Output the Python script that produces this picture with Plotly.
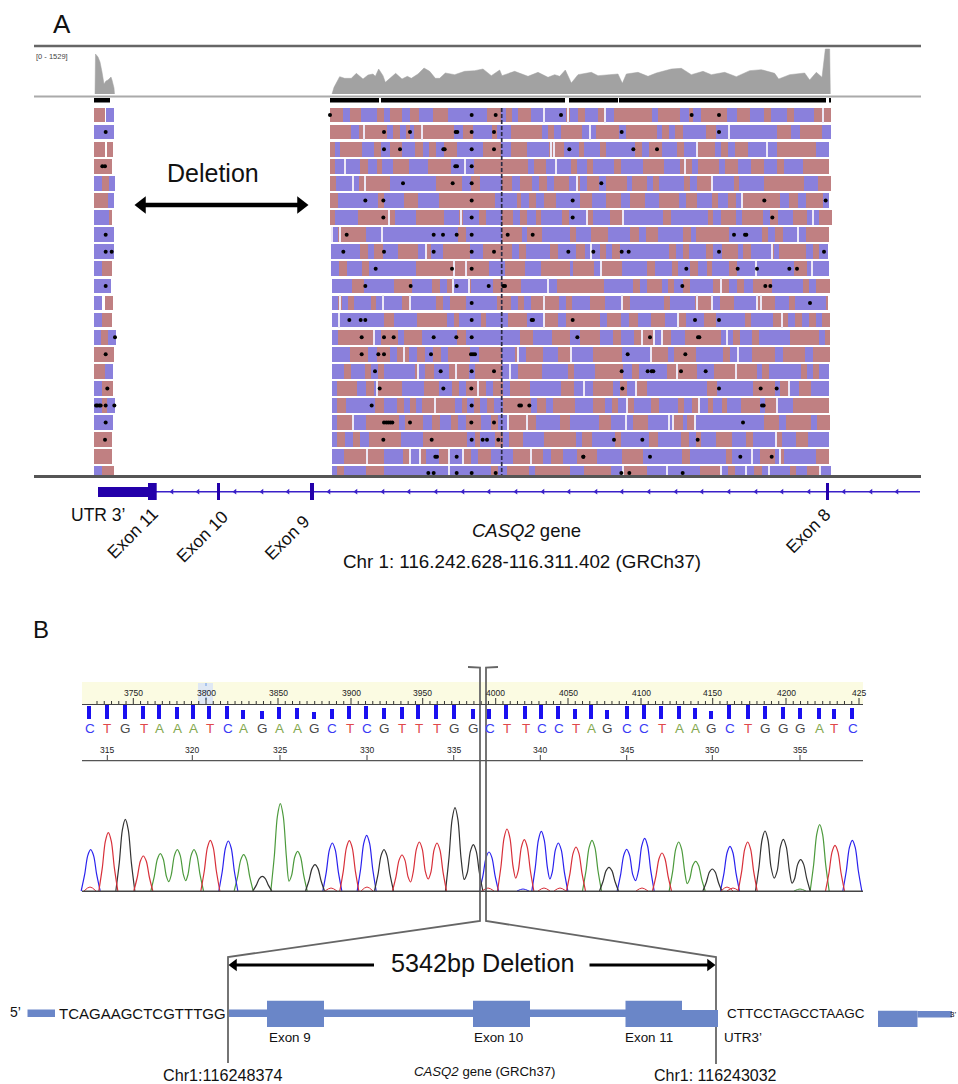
import plotly.graph_objects as go

# ---------- Panel A: coverage ----------
coverage_left_x = [95, 95.5, 98, 100, 102, 104, 106, 108, 110, 111, 112, 114, 114.5]
coverage_left_y = [94, 54, 57, 62, 72, 84, 81, 80, 78, 77, 80, 88, 94]
coverage_crop_x = [12,18,35,50,70,85,105,120,135,142,152,165,172,190,203,222,238,250,270,288,305,322,335,352,380,410,440,465,
                   490,515,522,560,600,630,660,680,695,712,730,750,790,810,840,870,883,895,930,960,985,1030,1060,1090,1125,
                   1150,1190,1225,1265,1300,1340,1352,1385,1430,1445,1465,1482,1492,1505,1507]
coverage_crop_y = [150,130,98,103,103,88,105,93,90,97,75,95,115,100,88,105,97,103,90,72,82,103,103,87,92,82,80,75,
                   95,78,95,82,97,85,100,92,97,78,117,92,85,95,92,90,118,90,85,97,87,75,73,92,82,
                   92,85,98,80,77,88,105,92,87,108,85,100,15,15,150]
depth_bar_starts = [94, 330, 381, 569, 619, 829]
depth_bar_ends = [110, 379, 565, 618, 826, 831]

# ---------- Panel A: reads (crop units, 3x) ----------
stub_first = ["R","B","R","R","B","R","B","B","B","B","B","B","B","B","R","R","B","B","B","R","R","B"]
stub_segments = [
    [28,60,64,88],[28,88],[28,60,65,84],[28,80],[28,52,72,90],[28,70,86],[28,73,82],[28,87],[28,88],[28,50,82],[28,78],
    [28,52,60,85],[28,50,82],[28,48,68,92],[28,87],[28,60,85],[28,50,85],[28,50,65,90],[28,85],[28,82],[28,82],[28,50,87],
]
stub_dots = [[],[62],[],[52,60],[],[],[],[62],[62,80],[],[62],[],[],[90],[62],[],[67],[33,37,43,47,62,88],[62],[60],[],[]]
row_first = ["R","R","R","R","R","R","R","B","B","B","B","B","B","B","B","B","B","B","B","B","B","B"]
row_left = [
    [15,53,75,107,155,176,195,232,256,282,325,370,485,528,543,562,578,617,723,735,758],
    [15,77,102,186,205,224,243,256,266,387,415,445,500,515,558,652,670,688,707],
    [15,30,46,110,147,168,195,230,270,293,312,333,358,396,474,528,558,607,672,718,762],
    [15,30,105,130,155,170,205,253,308,378,447,610,628,662,737,755],
    [15,33,102,195,332,410,438,465,530,562,586,622,642,665,687,733,755],
    [15,40,158,178,237,280,343,510,575,587,612,633,658,692],
    [15,30,98,210,274,358,403,413,462,482,530,565,585,607,632,648,711,732],
    [20,40,123,400,423,530,591,607,652,735,753],
    [18,104,128,147,173,218,280,303,319,354,436,473,562,581,604,676,700,752],
    [18,43,65,110,131,274,492,540,600,647,735,745],
    [20,80,117,208,262,320,344,365,385,428,438,503,587,695],
    [20,40,50,70,87,138,152,230,256,333,354,376,423,515,558,578,598,617,702,722,740],
    [20,177,208,277,367,387,401,468,484,548,606,658,700,722],
    [20,40,149,168,218,237,290,397,423,585,625,681,735],
    [20,75,128,155,195,216,253,276,300,323,348,370,434,462,530,570,579,604,653,700,739],
    [20,58,77,120,138,160,176,270,278,300,328,372,432,450,532,578,652,729,747],
    [20,37,96,123,147,156,232,298,342,381,401,423,484,503,533,556,614,708,748],
    [20,37,62,151,176,216,237,255,273,290,389,411,425,448,465,485,508,533,617,637,662,684,750],
    [20,37,83,123,222,240,295,322,344,378,400,422,468,497,518,550,633,705,735],
    [20,37,60,85,104,131,228,295,427,450,466,510,533,552,593,657,753],
    [20,58,176,235,252,285,303,342,372,415,438,460,499,563,654,677,715,755],
    [20,37,58,123,176,497,518,545,612,630,735],
]
row_right = [
    [15,55,75,102,217,233,300,327,340,363,440,470,510,552,573,622,642,702],
    [5,48,118,137,230,246,267,284,310,377,408,592,632,660,725],
    [12,60,78,165,185,207,245,292,312,348,405,422,443,465,503,590,709],
    [20,38,103,124,190,251,300,335,353,417,435,475,513,552,592,611,669],
    [0,22,58,78,140,155,202,220,238,312,330,352,393,462,478,552,672,715],
    [0,36,78,124,150,195,238,297,317,352,395,415,443,467,487,600,627,655,677,730],
    [22,40,90,128,248,273,383,400,422,467,485,548,570,595,640,680,717],
    [33,84,150,177,197,235,310,333,348,447,547,563,584,608,677],
    [15,60,78,97,120,268,288,308,326,378,398,425,475,490,513,572,583,597,677,700,717],
    [42,65,127,200,225,275,293,330,353,380,397,448,471,642,682],
    [72,160,180,202,246,265,283,310,330,398,448,472,492,518,575,670,688,707],
    [30,75,128,150,252,270,345,396,420,462,530,585,627,645,737],
    [60,82,122,148,174,214,254,295,318,373,407,495,512,580,623,645,665,687,707,727],
    [0,60,100,123,163,220,247,272,315,423,458,480,515,538,630,717,735],
    [40,125,215,265,283,347,430,450,517,585,608,675,698],
    [45,130,155,178,262,352,403,531,547,567,662,680,698,717],
    [38,100,120,140,168,200,382,412,520,585,600,628,658,693],
    [38,76,95,115,140,163,212,238,294,312,336,358,385,400,425,440,484,540,555,592,638],
    [58,92,160,203,283,308,322,347,552,597,617,693,712],
    [6,36,105,123,208,235,303,328,347,362,408,455,497,520,587,605,648,685],
    [50,127,190,306,330,438,455,540,585,600,612,708],
    [12,92,130,200,360,422,445,465,523,545,630,648,680,718],
]
row_end = [752,752,748,748,752,748,755,748,745,748,750,745,750,750,750,748,748,748,750,748,748,752]
gaps_left = [[658,730],[118,291],[678,686],[60,421,692],[84,121,755],[],[193,408],[22,45,171],[302],[387,423],[384,433,669],
             [45,173,254,657],[43,658],[148],[236,578,739],[279,392,555],[156,459],[329],[83,550,605],[],[127,255,285,371,415,618],[372]]
gaps_right = [[75,728],[31,447],[350,561],[316],[395],[487],[22,128,700],[654],[33,577],[62,528,697],[423],
              [127,350,396,530,542],[293,605],[187,222,247,442],[213,475],[292,469],[12,168,628],[140,358,592],[137,268,278,346],[587],[515,600],[130,262,422,497,568,720]]
dots_left = [[15,440,512,708],[177,255,392,397,440,507],[177,225,355,359,440,507,733],[391,396,440],[234,383,440],[121,175,440,743],
             [175,440,743],[65,326,354,395,440,548,623],[55,177,326,440,507,730],[152,381,440],[121,257,395,491,535,540],
             [440],[73,107,121,440,620,624,743],[110,177,206,326,394,440,757],[110,160,177,318,438,444,450],[150,347,440,507],
             [164,355,439],[140,440,583,588,613],[177,184,190,196,202,255,439,507],[175,320,440,473,486,520],[331,336,395,775],[310,326,395,440,512]]
dots_right = [[335,417],[125,417],[160,231],[],[64],[553,737],[577],[462,495,499],[40,125,146,417,732],[319,473,531,628,651],[307,556,571],
              [690],[345,417],[210,354,358],[143,316],[125,203,215,220,303,377],[127,417,542,590],[546,551],[489],[102,187,353],[10,210,481,575],[124,148,308]]

# ---------- Panel A: gene track ----------
gene_chevrons = [172,198,235,262,288,329,356,383,409,436,463,489,516,543,569,596,622,649,676,702,729,756,782,809,844,871,897]

# ---------- Panel B: chromatogram ----------
bases = list("CTGTAAATCAGAAGCTCGTTTGG" + "CTTCCTAGCCTAAGCTGGGATC")
peak_crop_x_a = [62,115,166,220,271,322,372,421,475,521,577,631,683,735,787,838,890,942,996,1048,1101,1155,1210]
peak_crop_y_a = [568,517,477,587,580,568,568,540,542,583,648,430,573,613,548,541,525,568,584,545,548,442,553]
peak_crop_x_b = [27,81,133,184,235,288,336,387,440,494,546,596,647,697,750,803,855,910,962,1019,1065,1117]
peak_crop_y_b = [575,506,538,513,548,560,540,621,567,534,578,545,603,626,558,545,512,537,598,493,555,540]
bar_x_a = [57,110,164,220,268,320,368,418,472,519,575,628,681,732,785,838,889,942,995,1045,1099,1152,1208]
bar_top_a = [137,135,135,138,135,141,135,138,138,151,153,141,143,156,147,139,139,144,141,135,135,135,148]
bar_x_b = [27,79,135,183,235,286,333,381,440,491,543,597,644,694,748,803,856,910,961,1016,1061,1117]
bar_top_b = [146,135,139,135,139,146,135,151,139,135,139,139,144,153,135,135,139,141,144,144,148,143]
bump_x = [90, 331, 367, 733, 488, 523, 544, 560, 642, 727, 800]
bump_h = [4, 3, 4, 3, 3, 2, 3, 3, 3, 4, 2]
bump_c = ["T", "T", "T", "T", "T", "C", "T", "T", "T", "T", "A"]

ruler_labels = ["3750", "3800", "3850", "3900", "3950", "4000", "4050", "4100", "4150", "4200", "425"]
ruler_x = [133.3, 206, 278, 351, 422.7, 495.7, 568, 641, 712.7, 786, 859]
base_labels = ["315", "320", "325", "330", "335", "340", "345", "350", "355"]
base_x = [107.3, 192.3, 280, 367, 453.7, 540.3, 626.7, 712.3, 800]

RED, BLUE = "#c08082", "#8a80dc"
FONT = "Liberation Sans"
LETTER = {"C": "#3a3af5", "T": "#e0484a", "G": "#4a4a4a", "A": "#84a850"}
TRACE = {"C": "#2a22ee", "T": "#d8303a", "G": "#333333", "A": "#4c9a3c"}

fig = go.Figure()

row_y = [115 + 17.09 * i for i in range(22)]
zl = lambda z: 325 + z / 3
zr = lambda z: 580 + z / 3
zs = lambda z: 85 + z / 3

bars = {"R": ([], [], []), "B": ([], [], [])}


def add_bar(a, b, c, y):
    if b > a:
        bars[c][0].append(a)
        bars[c][1].append(b - a)
        bars[c][2].append(y)


gap_x, gap_y, dot_x, dot_y = [], [], [], []
for i, y in enumerate(row_y):
    # left stub of reads
    c = stub_first[i]
    pts = stub_segments[i]
    if i in (0, 2, 11):   # reads split by a clear gap
        first = [pts[0], pts[1]]
        add_bar(zs(first[0]), zs(first[1]), c, y)
        second_col = {0: "B", 2: "R", 11: "R"}[i]
        add_bar(zs(pts[2]), zs(pts[3]), second_col, y)
    else:
        for a, b in zip(pts[:-1], pts[1:]):
            add_bar(zs(a), zs(b), c, y)
            c = "B" if c == "R" else "R"
    for d in stub_dots[i]:
        dot_x.append(zs(d)); dot_y.append(y)
    # main block of reads
    yb = y if i < 21 else 471
    pts = [zl(v) for v in row_left[i]] + [zr(v) for v in row_right[i]] + [zr(row_end[i])]
    c = row_first[i]
    for a, b in zip(pts[:-1], pts[1:]):
        add_bar(a, b, c, y)
        c = "B" if c == "R" else "R"
    for g in gaps_left[i]:
        gap_x.append(zl(g)); gap_y.append(y)
    for g in gaps_right[i]:
        gap_x.append(zr(g)); gap_y.append(y)
    for d in dots_left[i]:
        dot_x.append(zl(d)); dot_y.append(yb + (2 if i == 21 else 0))
    for d in dots_right[i]:
        dot_x.append(zr(d)); dot_y.append(yb + (2 if i == 21 else 0))

for c, col in (("R", RED), ("B", BLUE)):
    fig.add_trace(go.Bar(orientation="h", base=bars[c][0], x=bars[c][1], y=bars[c][2], width=14.8,
                         marker=dict(color=col, line=dict(width=0)), showlegend=False))

fig.add_trace(go.Bar(orientation="h", base=[g - 0.5 for g in gap_x], x=[1.0] * len(gap_x), y=gap_y, width=15,
                     marker=dict(color="#ece8f6", line=dict(width=0)), showlegend=False))

# coverage
cov_x = [328 + v / 3 for v in coverage_crop_x]
cov_y = [44 + v / 3 for v in coverage_crop_y]
for cx, cy in ((coverage_left_x, coverage_left_y), (cov_x, cov_y)):
    fig.add_trace(go.Scatter(x=cx, y=cy, mode="lines", fill="toself", fillcolor="#a2a2a2",
                             line=dict(color="#a2a2a2", width=0.5), showlegend=False))

shapes = []


def rect(x0, x1, y0, y1, col, layer="above"):
    shapes.append(dict(type="rect", xref="x", yref="y", x0=x0, x1=x1, y0=y0, y1=y1,
                       fillcolor=col, line=dict(width=0), layer=layer))


def hline(x0, x1, y, col, w):
    shapes.append(dict(type="line", xref="x", yref="y", x0=x0, x1=x1, y0=y, y1=y,
                       line=dict(color=col, width=w), layer="above"))


for a, b in zip(depth_bar_starts, depth_bar_ends):
    rect(a, b, 98, 102.5, "#000000")

hline(34, 921, 46, "#666666", 2.4)
hline(34, 921, 96.5, "#aaaaaa", 2.2)

rect(34, 921, 476, 482, "#ffffff")
hline(34, 921, 476.5, "#555555", 3.2)

fig.add_trace(go.Scatter(x=[501.7, 501.7], y=[108, 475], mode="lines",
                         line=dict(color="#2b2b44", width=1.7, dash="4px,2px"), showlegend=False))

fig.add_trace(go.Scatter(x=dot_x, y=dot_y, mode="markers",
                         marker=dict(symbol="circle", color="#000000", size=4, line=dict(width=0)), showlegend=False))

# gene track
GENE = "#2300aa"
hline(98, 920, 491.7, "#3a20c8", 1.4)
rect(98, 148, 487, 497, GENE)
rect(148, 156.7, 483, 500, GENE)
rect(217, 220, 483, 500, GENE)
rect(310, 314, 483, 500, GENE)
rect(826, 829, 483, 500, GENE)
fig.add_trace(go.Scatter(x=gene_chevrons, y=[491.7] * len(gene_chevrons), mode="markers",
                         marker=dict(symbol="triangle-left", size=5, color="#3a20c8"), showlegend=False))

# ruler band, panel B
rect(82, 863, 682, 704, "#fbfbe2", "below")
rect(198, 213, 683, 704, "#dfe8f4", "below")
fig.add_trace(go.Scatter(x=[206, 206], y=[683, 704], mode="lines",
                         line=dict(color="#6f9fe6", width=1, dash="3px,4px"), showlegend=False))
tick_x, tick_y = [], []
for rx in ruler_x:
    for k in range(-5, 5):
        t_x = rx + k * 7.26
        if 82 <= t_x <= 863:
            tick_x += [t_x, t_x, None]
            tick_y += [701 if k else 698, 704.5, None]
fig.add_trace(go.Scatter(x=tick_x, y=tick_y, mode="lines", line=dict(color="#333333", width=1), showlegend=False))
hline(82, 863, 704.5, "#444444", 1)

# quality bars
qx = [70 + v / 3 for v in bar_x_a] + [480 + v / 3 for v in bar_x_b]
qt = [660 + v / 3 for v in bar_top_a + bar_top_b]
fig.add_trace(go.Bar(x=qx, base=qt, y=[719 - t for t in qt], width=4.2, orientation="v",
                     marker=dict(color="#1a10f0", line=dict(width=0)), showlegend=False))

# base ruler
hline(82, 863, 760.7, "#555555", 1.2)
bx, by = [], []
for b in base_x:
    bx += [b, b, None]
    by += [755, 760.7, None]
fig.add_trace(go.Scatter(x=bx, y=by, mode="lines", line=dict(color="#444444", width=1), showlegend=False))

# chromatogram: apexes from arrays, each peak a smooth hump through the apex
BASE = 891
px = [70 + v / 3 for v in peak_crop_x_a] + [480 + v / 3 for v in peak_crop_x_b]
ph = [(692 - v) / 3 for v in peak_crop_y_a + peak_crop_y_b]
for col in "ACGT":
    xs, ys = [], []
    prev = None
    for i, b in enumerate(bases):
        if b != col:
            continue
        adjacent = prev is not None and i == prev + 1
        if adjacent:
            xs.append((px[prev] + px[i]) / 2)
            ys.append(BASE - 0.25 * min(ph[prev], ph[i]))
        else:
            if prev is not None:
                xs += [px[prev] + 9.5, None]
                ys += [BASE, None]
            xs.append(px[i] - 9.5)
            ys.append(BASE)
        xs += [px[i] - 6, px[i] - 3, px[i], px[i] + 3, px[i] + 6]
        ys += [BASE - 0.4 * ph[i], BASE - 0.85 * ph[i], BASE - ph[i], BASE - 0.85 * ph[i], BASE - 0.4 * ph[i]]
        prev = i
    xs.append(px[prev] + 9.5)
    ys.append(BASE)
    fig.add_trace(go.Scatter(x=xs, y=ys, mode="lines", connectgaps=False,
                             line=dict(color=TRACE[col], width=1.2, shape="spline", smoothing=0.8), showlegend=False))
    bxs, bys = [], []
    for bxv, bhv, bc in zip(bump_x, bump_h, bump_c):
        if bc == col:
            bxs += [bxv - 6, bxv, bxv + 6, None]
            bys += [BASE, BASE - bhv, BASE, None]
    if bxs:
        fig.add_trace(go.Scatter(x=bxs, y=bys, mode="lines",
                                 line=dict(color=TRACE[col], width=1, shape="spline"), showlegend=False))
hline(82, 863, 891.2, "#444444", 1.4)

# brackets
BR = "#666666"
fig.add_trace(go.Scatter(x=[468, 480, 480, 228, 228], y=[667, 667.5, 921, 957, 1063], mode="lines",
                         line=dict(color=BR, width=1.8), showlegend=False))
fig.add_trace(go.Scatter(x=[498, 486, 486, 716, 716], y=[667, 667.5, 921, 957, 1064], mode="lines",
                         line=dict(color=BR, width=1.8), showlegend=False))

# gene cartoon, panel B
G = "#6a86c8"
rect(27.5, 55, 1009.5, 1017, G)
rect(229, 682, 1009.5, 1017, G)
rect(267, 324, 1000.7, 1027, G)
rect(473, 530, 1000.7, 1027, G)
rect(625.5, 682, 1000.7, 1027, G)
rect(682, 718, 1010, 1027, G)
rect(878, 917.5, 1010.7, 1027, G)
rect(917.5, 952, 1011, 1017.5, G)

# arrows
fig.add_trace(go.Scatter(x=[141, 303], y=[205, 205], mode="lines", line=dict(color="#000000", width=4.5), showlegend=False))
fig.add_trace(go.Scatter(x=[142, 301], y=[205, 205], mode="markers",
                         marker=dict(symbol=["triangle-left", "triangle-right"], size=15, color="#000000",
                                     line=dict(width=0)), showlegend=False))
for a, b in ((233, 374), (589.5, 711)):
    fig.add_trace(go.Scatter(x=[a, b], y=[965, 965], mode="lines", line=dict(color="#000000", width=3), showlegend=False))
fig.add_trace(go.Scatter(x=[234, 710], y=[965, 965], mode="markers",
                         marker=dict(symbol=["triangle-left", "triangle-right"], size=11, color="#000000",
                                     line=dict(width=0)), showlegend=False))

ann = []


def t(x, y, s, size=14, col="#111111", angle=0, anchor="center"):
    ann.append(dict(x=x, y=y, xref="x", yref="y", text=s, showarrow=False, textangle=angle, xanchor=anchor,
                    yanchor="middle", font=dict(family=FONT, size=size, color=col)))


t(62, 24, "A", 26)
t(41, 629, "B", 24)
t(52, 56, "[0 - 1529]", 7.5, "#444444")
t(213, 172.5, "Deletion", 25)
t(98, 515, "UTR 3’", 17.5)
t(132.7, 533, "Exon 11", 17.5, angle=-45)
t(201.7, 536.7, "Exon 10", 17.5, angle=-45)
t(286.7, 538, "Exon 9", 17.5, angle=-45)
t(808, 531, "Exon 8", 17.5, angle=-45)
t(526, 530, "<i>CASQ2</i> gene", 18.5)
t(522, 561, "Chr 1: 116.242.628-116.311.402 (GRCh37)", 18.8)

for lab, x in zip(ruler_labels, ruler_x):
    t(x, 692.7, lab, 8.5, "#222222")
for lab, x in zip(base_labels, base_x):
    t(x, 750, lab, 8.5, "#222222")
for b, x in zip(bases, qx):
    t(x + 0.5, 728.5, b, 13.5, LETTER[b])

t(482.6, 963, "5342bp Deletion", 25.2)
t(15, 1012, "5’", 14)
t(142, 1013, "TCAGAAGCTCGTTTGG", 15)
t(795.5, 1013, "CTTCCTAGCCTAAGC", 13.5)
t(958, 1014, "3’", 8, anchor="right")
t(290, 1037, "Exon 9", 13.4)
t(498, 1037, "Exon 10", 13.4)
t(649, 1037, "Exon 11", 13.4)
t(743, 1037, "UTR3’", 13.4)
t(222, 1075, "Chr1:116248374", 16.2)
t(484, 1071.5, "<i>CASQ2</i> gene (GRCh37)", 13.2)
t(715, 1075.5, "Chr1: 116243032", 16)

fig.update_layout(
    width=958, height=1084, autosize=False, margin=dict(l=0, r=0, t=0, b=0),
    paper_bgcolor="#ffffff", plot_bgcolor="#ffffff", barmode="overlay", bargap=0,
    xaxis=dict(range=[0, 958], visible=False, fixedrange=True),
    yaxis=dict(range=[1084, 0], visible=False, fixedrange=True),
    shapes=shapes, annotations=ann, showlegend=False,
)
fig.write_html("out.html", config={"displayModeBar": False}, post_script="document.body.style.margin='0';")
